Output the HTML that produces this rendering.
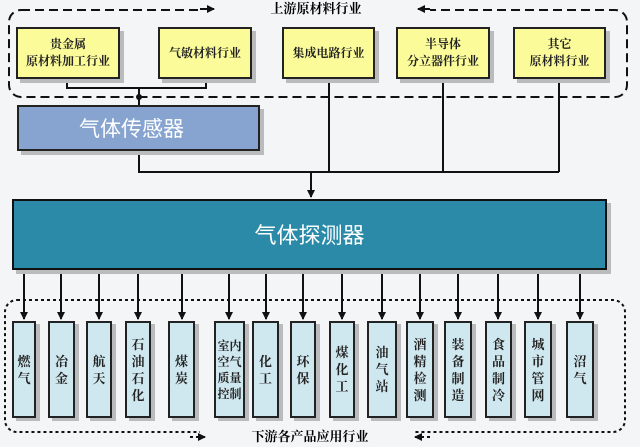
<!DOCTYPE html><html><head><meta charset="utf-8"><style>
body{margin:0;width:640px;height:447px;background:#f3f5f7;position:relative;overflow:hidden;font-family:"Liberation Sans","Noto Serif CJK SC","Noto Sans CJK SC",serif;}
.a{position:absolute;}
.yb{position:absolute;background:#fbfb9a;border:2px solid #222;box-shadow:4px 4px 0 #b9bbbd;display:flex;align-items:center;justify-content:center;text-align:center;font-size:12px;line-height:17px;color:#222;box-sizing:border-box;font-weight:bold}
.col{position:absolute;top:321px;height:97px;background:#cfe7ef;border:2px solid #222;box-sizing:border-box;box-shadow:4px 3px 0 #b9bbbd;display:flex;align-items:center;justify-content:center;text-align:center;font-size:13px;line-height:17px;color:#222;font-weight:bold}
</style></head><body>
<svg class="a" style="left:0;top:0" width="640" height="447">
<defs><marker id="m" markerWidth="8" markerHeight="8" refX="7" refY="4" orient="auto" markerUnits="userSpaceOnUse"><path d="M0,0L8,4L0,8z" fill="#111"/></marker></defs>
<rect x="9" y="10" width="618" height="87" rx="12" fill="none" stroke="#111" stroke-width="2" stroke-dasharray="9,5"/>
<rect x="5" y="300" width="620" height="132" rx="12" fill="none" stroke="#111" stroke-width="2" stroke-dasharray="3,3"/>
<rect x="200" y="0" width="230" height="20" fill="#f3f5f7"/>
<rect x="200" y="428" width="215" height="19" fill="#f3f5f7"/>
<line x1="200" y1="9" x2="214" y2="9" stroke="#111" stroke-width="2" marker-end="url(#m)"/>
<line x1="430" y1="9" x2="418" y2="9" stroke="#111" stroke-width="2" marker-end="url(#m)"/>
<line x1="190" y1="437" x2="205" y2="437" stroke="#111" stroke-width="2" stroke-dasharray="3,3" marker-end="url(#m)"/>
<line x1="430" y1="437" x2="415" y2="437" stroke="#111" stroke-width="2" stroke-dasharray="3,3" marker-end="url(#m)"/>
<g stroke="#111" stroke-width="2" fill="none">
<polyline points="67,78 67,88 206,88 206,78"/>
<line x1="139" y1="88" x2="139" y2="105"/>
<polyline points="139,151 139,172 559,172"/>
<line x1="329" y1="78" x2="329" y2="172"/><line x1="443" y1="78" x2="443" y2="172"/><line x1="559" y1="78" x2="559" y2="172"/>
<line x1="311" y1="172" x2="311" y2="197" marker-end="url(#m)"/>
</g>
<circle cx="139" cy="97" r="3" fill="#111"/>
<g stroke="#111" stroke-width="2">
<line x1="24" y1="270" x2="24" y2="319" marker-end="url(#m)"/>
<line x1="61" y1="270" x2="61" y2="319" marker-end="url(#m)"/>
<line x1="99" y1="270" x2="99" y2="319" marker-end="url(#m)"/>
<line x1="138" y1="270" x2="138" y2="319" marker-end="url(#m)"/>
<line x1="182" y1="270" x2="182" y2="319" marker-end="url(#m)"/>
<line x1="229" y1="270" x2="229" y2="319" marker-end="url(#m)"/>
<line x1="266" y1="270" x2="266" y2="319" marker-end="url(#m)"/>
<line x1="303" y1="270" x2="303" y2="319" marker-end="url(#m)"/>
<line x1="342" y1="270" x2="342" y2="319" marker-end="url(#m)"/>
<line x1="382" y1="270" x2="382" y2="319" marker-end="url(#m)"/>
<line x1="420" y1="270" x2="420" y2="319" marker-end="url(#m)"/>
<line x1="458" y1="270" x2="458" y2="319" marker-end="url(#m)"/>
<line x1="498" y1="270" x2="498" y2="319" marker-end="url(#m)"/>
<line x1="538" y1="270" x2="538" y2="319" marker-end="url(#m)"/>
<line x1="580" y1="270" x2="580" y2="319" marker-end="url(#m)"/>
</g>
</svg>
<div class="a" style="left:216px;top:0;width:200px;text-align:center;font-size:13px;font-weight:bold;line-height:18px">上游原材料行业</div>
<div class="a" style="left:205px;top:428px;width:210px;text-align:center;font-size:13px;font-weight:bold;line-height:18px">下游各产品应用行业</div>
<div class="yb" style="left:16px;top:27px;width:104px;height:52px">贵金属<br>原材料加工行业</div>
<div class="yb" style="left:158px;top:27px;width:94px;height:52px">气敏材料行业</div>
<div class="yb" style="left:282px;top:27px;width:93px;height:52px">集成电路行业</div>
<div class="yb" style="left:396px;top:27px;width:94px;height:52px">半导体<br>分立器件行业</div>
<div class="yb" style="left:513px;top:27px;width:93px;height:52px">其它<br>原材料行业</div>
<div class="a" style="left:17px;top:105px;width:243px;height:46px;background:#86a4cf;border:2px solid #222;box-sizing:border-box;box-shadow:4px 4px 0 #b9bbbd;color:#fff;font-size:21px;line-height:42px;padding-left:60px;font-family:'Noto Sans CJK SC',sans-serif">气体传感器</div>
<div class="a" style="left:12px;top:199px;width:595px;height:71px;background:#2b8aa8;border:2px solid #111;box-sizing:border-box;box-shadow:4px 4px 0 #b9bbbd;color:#fff;font-size:22px;line-height:67px;text-align:center;font-family:'Noto Sans CJK SC',sans-serif">气体探测器</div>
<div class="col" style="left:12px;width:24px">燃<br>气</div>
<div class="col" style="left:48px;width:27px">冶<br>金</div>
<div class="col" style="left:86px;width:26px">航<br>天</div>
<div class="col" style="left:125px;width:26px">石<br>油<br>石<br>化</div>
<div class="col" style="left:168px;width:27px">煤<br>炭</div>
<div class="col" style="left:214px;width:31px;font-size:12px;line-height:16px">室内<br>空气<br>质量<br>控制</div>
<div class="col" style="left:252px;width:27px">化<br>工</div>
<div class="col" style="left:290px;width:26px">环<br>保</div>
<div class="col" style="left:329px;width:26px">煤<br>化<br>工</div>
<div class="col" style="left:367px;width:30px">油<br>气<br>站</div>
<div class="col" style="left:406px;width:28px">酒<br>精<br>检<br>测</div>
<div class="col" style="left:444px;width:28px">装<br>备<br>制<br>造</div>
<div class="col" style="left:485px;width:27px">食<br>品<br>制<br>冷</div>
<div class="col" style="left:524px;width:28px">城<br>市<br>管<br>网</div>
<div class="col" style="left:566px;width:28px">沼<br>气</div>
</body></html>
